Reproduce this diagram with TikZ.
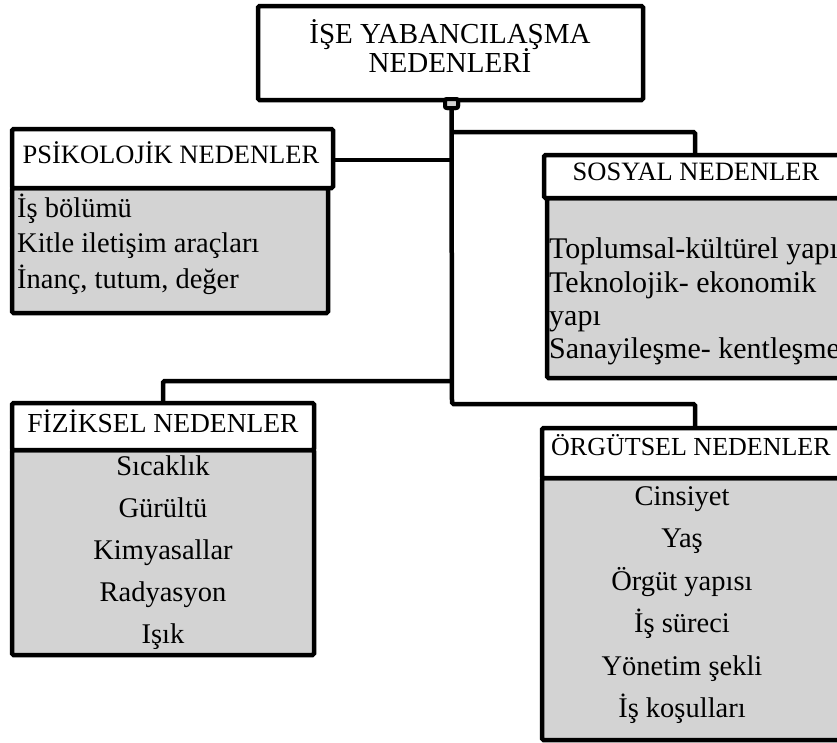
\documentclass[tikz,border=0pt]{standalone}
\usepackage{fontspec}
\setmainfont{Liberation Serif}
\definecolor{boxgray}{RGB}{211,211,211}
\tikzset{
  frame/.style={draw=black, line width=4.5pt, rounded corners=1.5pt},
  hdrbox/.style={frame, fill=white},
  bodybox/.style={frame, fill=boxgray},
  link/.style={draw=black, line width=4.5pt, rounded corners=1.5pt},
  hdrtxt/.style={inner sep=0pt, anchor=base, font=\fontsize{26.5}{30}\selectfont},
  ttltxt/.style={inner sep=0pt, anchor=base, font=\fontsize{29}{30}\selectfont},
  itemL/.style={inner sep=0pt, anchor=base west, font=\fontsize{28.5}{34}\selectfont},
  itemC/.style={inner sep=0pt, anchor=base, font=\fontsize{28.5}{34}\selectfont}
}
\begin{document}
\begin{tikzpicture}[x=1pt,y=-1pt]
\useasboundingbox (0,0) rectangle (837,742);
% top box
\draw[hdrbox] (258,6) rectangle (643,100);
\node[ttltxt] (t1) at (450,43) {İŞE YABANCILAŞMA};
\node[ttltxt] (t2) at (450,72) {NEDENLERİ};

% PSIKOLOJIK
\draw[bodybox] (12,188) rectangle (328,313);
\draw[hdrbox] (12,129) rectangle (333,188);
\coordinate (psyR) at (333,160);
\node[hdrtxt] (psyh) at (171,163) {PSİKOLOJİK NEDENLER};
\node[itemL] (p1) at (17,217) {İş bölümü};
\node[itemL] (p2) at (17,252) {Kitle iletişim araçları};
\node[itemL] (p3) at (17,288) {İnanç, tutum, değer};

% SOSYAL
\draw[bodybox] (547,198) rectangle (880,378);
\draw[hdrbox] (544,155) rectangle (880,198);
\coordinate (sosT) at (695,155);
\node[hdrtxt, font=\fontsize{26.5}{30}\selectfont] (sosh) at (696,180) {SOSYAL NEDENLER};
\node[itemL, font=\fontsize{30}{34}\selectfont] (s1) at (549,258) {Toplumsal-kültürel yapı};
\node[itemL, font=\fontsize{30}{34}\selectfont] (s2) at (549,292) {Teknolojik- ekonomik};
\node[itemL, font=\fontsize{30}{34}\selectfont] (s3) at (549,325) {yapı};
\node[itemL, font=\fontsize{30}{34}\selectfont] (s4) at (549,358) {Sanayileşme- kentleşme};

% FIZIKSEL
\draw[bodybox] (12,450) rectangle (314,655);
\draw[hdrbox] (12,403) rectangle (314,450);
\coordinate (fizT) at (163,403);
\node[hdrtxt, font=\fontsize{27.5}{30}\selectfont] (fizh) at (163,432) {FİZİKSEL NEDENLER};
\node[itemC] (f1) at (163,475) {Sıcaklık};
\node[itemC] (f2) at (163,517) {Gürültü};
\node[itemC] (f3) at (163,559) {Kimyasallar};
\node[itemC] (f4) at (163,601) {Radyasyon};
\node[itemC] (f5) at (163,643) {Işık};

% ORGUTSEL
\draw[bodybox] (542,478) rectangle (880,740);
\draw[hdrbox] (542,428) rectangle (880,478);
\coordinate (orgT) at (695,428);
\node[hdrtxt, font=\fontsize{26}{30}\selectfont, anchor=base west] (orgh) at (551,455) {ÖRGÜTSEL NEDENLER};
\node[itemC] (o1) at (682,505) {Cinsiyet};
\node[itemC] (o2) at (682,547.5) {Yaş};
\node[itemC] (o3) at (682,590) {Örgüt yapısı};
\node[itemC] (o4) at (682,632.5) {İş süreci};
\node[itemC] (o5) at (682,675) {Yönetim şekli};
\node[itemC] (o6) at (682,717.5) {İş koşulları};

% connectors
\coordinate (jS) at (452,132);
\coordinate (jP) at (452,160);
\coordinate (jF) at (452,381);
\coordinate (jO) at (452,404);
\node[draw=black, line width=4pt, fill=boxgray, rounded corners=2pt, minimum width=13pt, minimum height=9pt, inner sep=0pt] (jn) at (451.5,103.5) {};
\draw[link] (jn.south) -- (jO) -| (orgT);
\draw[link] (jS) -| (sosT);
\draw[link] (psyR) -- (jP);
\draw[link] (jF) -| (fizT);
\node[draw=black, line width=4pt, fill=boxgray, rounded corners=2pt, minimum width=13pt, minimum height=9pt, inner sep=0pt] at (jn) {};
\end{tikzpicture}
\end{document}
